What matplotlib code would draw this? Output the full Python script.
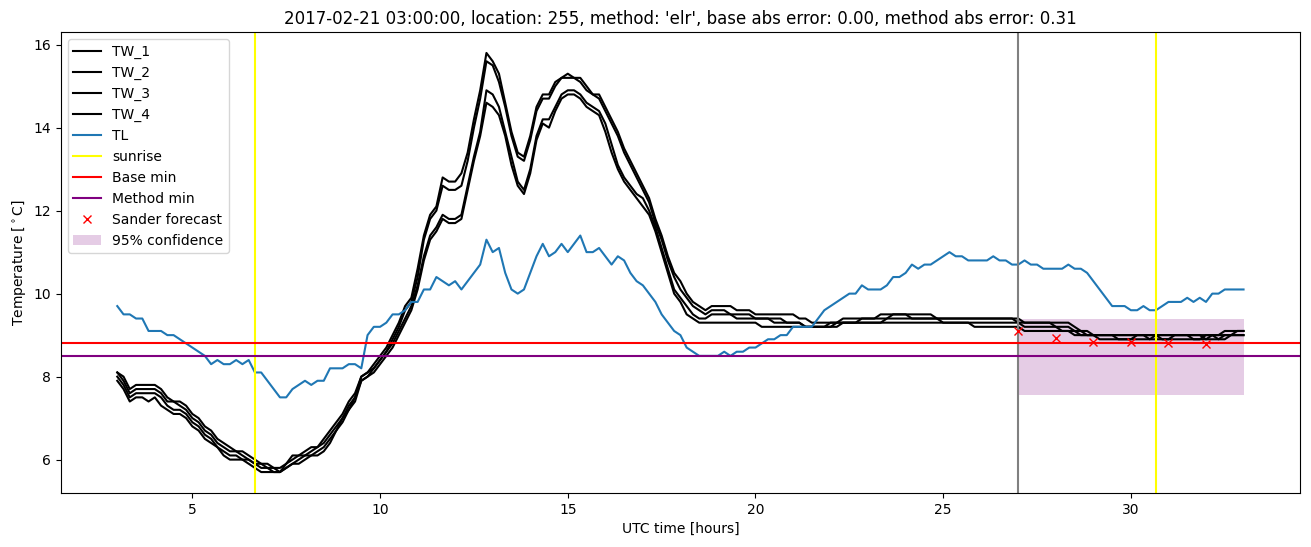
import numpy as np
import matplotlib
matplotlib.use("Agg")
import matplotlib.pyplot as plt

# time axis: 3h .. 33h UTC in 10-minute steps (181 samples)
hours = np.linspace(3, 33, 181)

# air temperature (TL), one row per hour
tl = [
    9.7, 9.5, 9.5, 9.4, 9.4, 9.1,
    9.1, 9.1, 9.0, 9.0, 8.9, 8.8,
    8.7, 8.6, 8.5, 8.3, 8.4, 8.3,
    8.3, 8.4, 8.3, 8.4, 8.1, 8.1,
    7.9, 7.7, 7.5, 7.5, 7.7, 7.8,
    7.9, 7.8, 7.9, 7.9, 8.2, 8.2,
    8.2, 8.3, 8.3, 8.2, 9.0, 9.2,
    9.2, 9.3, 9.5, 9.5, 9.6, 9.8,
    9.8, 10.1, 10.1, 10.4, 10.3, 10.2,
    10.3, 10.1, 10.3, 10.5, 10.7, 11.3,
    11.0, 11.1, 10.5, 10.1, 10.0, 10.1,
    10.5, 10.9, 11.2, 10.9, 11.0, 11.2,
    11.0, 11.2, 11.4, 11.0, 11.0, 11.1,
    10.9, 10.7, 10.9, 10.8, 10.5, 10.3,
    10.2, 10.0, 9.8, 9.5, 9.3, 9.1,
    9.0, 8.7, 8.6, 8.5, 8.5, 8.5,
    8.5, 8.6, 8.5, 8.6, 8.6, 8.7,
    8.7, 8.8, 8.9, 8.9, 9.0, 9.0,
    9.2, 9.2, 9.2, 9.2, 9.4, 9.6,
    9.7, 9.8, 9.9, 10.0, 10.0, 10.2,
    10.1, 10.1, 10.1, 10.2, 10.4, 10.4,
    10.5, 10.7, 10.6, 10.7, 10.7, 10.8,
    10.9, 11.0, 10.9, 10.9, 10.8, 10.8,
    10.8, 10.8, 10.9, 10.8, 10.8, 10.7,
    10.7, 10.8, 10.7, 10.7, 10.6, 10.6,
    10.6, 10.6, 10.7, 10.6, 10.6, 10.5,
    10.3, 10.1, 9.9, 9.7, 9.7, 9.7,
    9.6, 9.6, 9.7, 9.6, 9.6, 9.7,
    9.8, 9.8, 9.8, 9.9, 9.8, 9.9,
    9.8, 10.0, 10.0, 10.1, 10.1, 10.1,
    10.1,
]

# road surface temperatures (TW_1..TW_4)
tw_1 = [
    8.1, 8.0, 7.7, 7.8, 7.8, 7.8,
    7.8, 7.7, 7.5, 7.4, 7.4, 7.3,
    7.1, 7.0, 6.8, 6.7, 6.5, 6.4,
    6.3, 6.2, 6.2, 6.1, 6.0, 5.9,
    5.9, 5.8, 5.8, 5.9, 6.1, 6.1,
    6.2, 6.3, 6.3, 6.5, 6.7, 6.9,
    7.1, 7.4, 7.6, 8.0, 8.1, 8.3,
    8.5, 8.7, 9.0, 9.3, 9.7, 9.9,
    10.6, 11.4, 11.9, 12.1, 12.8, 12.7,
    12.7, 12.9, 13.4, 14.2, 14.9, 15.8,
    15.6, 15.3, 14.6, 13.9, 13.4, 13.3,
    13.8, 14.5, 14.8, 14.8, 15.1, 15.2,
    15.3, 15.2, 15.2, 15.0, 14.8, 14.8,
    14.5, 14.2, 13.9, 13.5, 13.2, 12.9,
    12.6, 12.3, 11.8, 11.4, 10.9, 10.5,
    10.3, 10.0, 9.8, 9.7, 9.6, 9.7,
    9.7, 9.7, 9.7, 9.6, 9.6, 9.6,
    9.5, 9.5, 9.5, 9.5, 9.5, 9.5,
    9.5, 9.4, 9.4, 9.3, 9.3, 9.3,
    9.3, 9.3, 9.4, 9.4, 9.4, 9.4,
    9.4, 9.4, 9.5, 9.5, 9.5, 9.5,
    9.5, 9.5, 9.5, 9.5, 9.5, 9.4,
    9.4, 9.4, 9.4, 9.4, 9.4, 9.4,
    9.4, 9.4, 9.4, 9.4, 9.4, 9.4,
    9.4, 9.3, 9.3, 9.3, 9.3, 9.3,
    9.3, 9.3, 9.3, 9.2, 9.1, 9.1,
    9.0, 9.0, 9.0, 9.0, 9.0, 9.0,
    9.0, 9.0, 9.0, 9.0, 9.0, 9.0,
    9.0, 9.0, 9.0, 9.0, 9.0, 9.0,
    9.0, 9.0, 9.0, 9.1, 9.1, 9.1,
    9.1,
]
tw_2 = [
    8.1, 7.9, 7.6, 7.7, 7.7, 7.7,
    7.7, 7.6, 7.4, 7.4, 7.3, 7.2,
    7.0, 6.9, 6.7, 6.6, 6.4, 6.3,
    6.2, 6.2, 6.1, 6.0, 5.9, 5.9,
    5.8, 5.8, 5.7, 5.9, 6.0, 6.1,
    6.1, 6.2, 6.3, 6.4, 6.6, 6.8,
    7.0, 7.3, 7.5, 8.0, 8.1, 8.2,
    8.4, 8.6, 8.9, 9.2, 9.6, 9.8,
    10.4, 11.3, 11.8, 12.0, 12.6, 12.5,
    12.5, 12.6, 13.2, 14.0, 14.7, 15.6,
    15.5, 15.1, 14.5, 13.8, 13.3, 13.2,
    13.7, 14.4, 14.7, 14.7, 15.0, 15.2,
    15.2, 15.2, 15.1, 14.9, 14.8, 14.7,
    14.4, 14.1, 13.8, 13.4, 13.1, 12.8,
    12.5, 12.2, 11.7, 11.3, 10.8, 10.4,
    10.1, 9.9, 9.7, 9.6, 9.5, 9.6,
    9.6, 9.6, 9.5, 9.5, 9.5, 9.5,
    9.4, 9.4, 9.4, 9.4, 9.4, 9.3,
    9.3, 9.3, 9.2, 9.2, 9.2, 9.2,
    9.3, 9.3, 9.3, 9.3, 9.3, 9.4,
    9.4, 9.4, 9.4, 9.4, 9.5, 9.5,
    9.5, 9.4, 9.4, 9.4, 9.4, 9.4,
    9.4, 9.4, 9.4, 9.4, 9.4, 9.4,
    9.4, 9.4, 9.4, 9.4, 9.4, 9.4,
    9.3, 9.3, 9.3, 9.3, 9.3, 9.3,
    9.2, 9.2, 9.2, 9.1, 9.1, 9.0,
    9.0, 9.0, 9.0, 9.0, 9.0, 9.0,
    9.0, 9.0, 9.0, 8.9, 9.0, 9.0,
    9.0, 9.0, 9.0, 9.0, 9.0, 9.0,
    8.9, 9.0, 9.0, 9.0, 9.0, 9.1,
    9.1,
]
tw_3 = [
    8.0, 7.8, 7.5, 7.6, 7.6, 7.6,
    7.6, 7.5, 7.3, 7.2, 7.2, 7.1,
    6.9, 6.8, 6.6, 6.5, 6.3, 6.2,
    6.1, 6.1, 6.0, 6.0, 5.9, 5.8,
    5.8, 5.7, 5.7, 5.8, 5.9, 6.0,
    6.1, 6.1, 6.2, 6.3, 6.5, 6.7,
    7.0, 7.2, 7.5, 7.9, 8.0, 8.2,
    8.4, 8.6, 8.8, 9.1, 9.4, 9.7,
    10.2, 10.9, 11.4, 11.6, 11.9, 11.8,
    11.8, 11.9, 12.6, 13.3, 13.9, 14.9,
    14.8, 14.5, 13.9, 13.3, 12.7, 12.5,
    13.0, 13.8, 14.2, 14.2, 14.5, 14.8,
    14.9, 14.9, 14.8, 14.6, 14.5, 14.4,
    14.1, 13.6, 13.1, 12.8, 12.6, 12.4,
    12.3, 12.0, 11.6, 11.1, 10.6, 10.1,
    9.9, 9.7, 9.5, 9.4, 9.4, 9.5,
    9.5, 9.5, 9.5, 9.4, 9.4, 9.4,
    9.4, 9.4, 9.4, 9.3, 9.3, 9.3,
    9.3, 9.3, 9.2, 9.2, 9.2, 9.2,
    9.2, 9.3, 9.3, 9.3, 9.3, 9.3,
    9.3, 9.3, 9.3, 9.4, 9.4, 9.4,
    9.4, 9.4, 9.4, 9.4, 9.4, 9.4,
    9.3, 9.3, 9.3, 9.3, 9.3, 9.3,
    9.3, 9.3, 9.3, 9.3, 9.3, 9.3,
    9.3, 9.2, 9.2, 9.2, 9.2, 9.2,
    9.2, 9.1, 9.1, 9.1, 9.0, 9.0,
    9.0, 9.0, 9.0, 9.0, 8.9, 8.9,
    8.9, 9.0, 9.0, 9.0, 9.0, 8.9,
    8.9, 9.0, 9.0, 9.0, 8.9, 8.9,
    9.0, 9.0, 8.9, 9.0, 9.0, 9.0,
    9.0,
]
tw_4 = [
    7.9, 7.7, 7.4, 7.5, 7.5, 7.4,
    7.5, 7.3, 7.2, 7.1, 7.1, 7.0,
    6.8, 6.7, 6.5, 6.4, 6.3, 6.1,
    6.0, 6.0, 6.0, 5.9, 5.8, 5.7,
    5.7, 5.7, 5.7, 5.8, 5.9, 5.9,
    6.0, 6.1, 6.1, 6.2, 6.4, 6.7,
    6.9, 7.2, 7.4, 7.9, 8.0, 8.1,
    8.3, 8.5, 8.7, 9.0, 9.3, 9.6,
    10.1, 10.8, 11.3, 11.5, 11.8, 11.7,
    11.7, 11.8, 12.5, 13.2, 13.8, 14.6,
    14.5, 14.3, 13.8, 13.1, 12.6, 12.4,
    12.9, 13.7, 14.1, 14.0, 14.4, 14.7,
    14.8, 14.8, 14.7, 14.5, 14.4, 14.3,
    13.9, 13.4, 13.0, 12.7, 12.5, 12.3,
    12.1, 11.9, 11.5, 11.0, 10.5, 10.0,
    9.8, 9.5, 9.4, 9.3, 9.3, 9.3,
    9.3, 9.3, 9.3, 9.3, 9.3, 9.3,
    9.3, 9.2, 9.2, 9.2, 9.2, 9.2,
    9.2, 9.2, 9.2, 9.2, 9.2, 9.2,
    9.2, 9.2, 9.3, 9.3, 9.3, 9.3,
    9.3, 9.3, 9.3, 9.3, 9.3, 9.3,
    9.3, 9.3, 9.3, 9.3, 9.3, 9.3,
    9.3, 9.3, 9.3, 9.3, 9.3, 9.2,
    9.2, 9.2, 9.2, 9.2, 9.2, 9.2,
    9.2, 9.1, 9.1, 9.1, 9.1, 9.1,
    9.1, 9.1, 9.1, 9.0, 9.0, 9.0,
    9.0, 8.9, 8.9, 8.9, 8.9, 8.9,
    8.9, 8.9, 8.9, 8.9, 8.9, 8.9,
    8.9, 8.9, 8.9, 8.9, 8.9, 8.9,
    8.9, 8.9, 8.9, 8.9, 9.0, 9.0,
    9.0,
]

sunrise_hours = [6.68, 30.67]
forecast_start = 27.0
base_min = 8.8
method_min = 8.5

forecast_hours = [27, 28, 29, 30, 31, 32]
forecast_vals = [9.10, 8.93, 8.84, 8.84, 8.81, 8.79]
conf_hours = [27, 33]
conf_low = 7.56
conf_high = 9.39

title = ("2017-02-21 03:00:00, location: 255, method: 'elr', "
         "base abs error: 0.00, method abs error: 0.31")

fig = plt.figure(figsize=(13.11, 5.47), dpi=100)
ax = fig.add_axes([0.0465, 0.0987, 0.945, 0.8428])

for name, vals in [("TW_1", tw_1), ("TW_2", tw_2), ("TW_3", tw_3), ("TW_4", tw_4)]:
    ax.plot(hours, vals, color="black", label=name)
ax.plot(hours, tl, color="tab:blue", label="TL")

for i, sr in enumerate(sunrise_hours):
    ax.axvline(sr, color="yellow", label="sunrise" if i == 0 else None)
ax.axvline(forecast_start, color="gray")
ax.axhline(base_min, color="red", label="Base min")
ax.axhline(method_min, color="purple", label="Method min")
ax.plot(forecast_hours, forecast_vals, "x", color="red", linestyle="none",
        label="Sander forecast")
ax.fill_between(conf_hours, conf_low, conf_high, color="purple", alpha=0.2,
                linewidth=0, label="95% confidence")

ax.set_title(title)
ax.set_xlabel("UTC time [hours]")
ax.set_ylabel(r"Temperature [$^\circ$C]")
ax.legend(loc="upper left")

plt.savefig("out.png", dpi=100)
